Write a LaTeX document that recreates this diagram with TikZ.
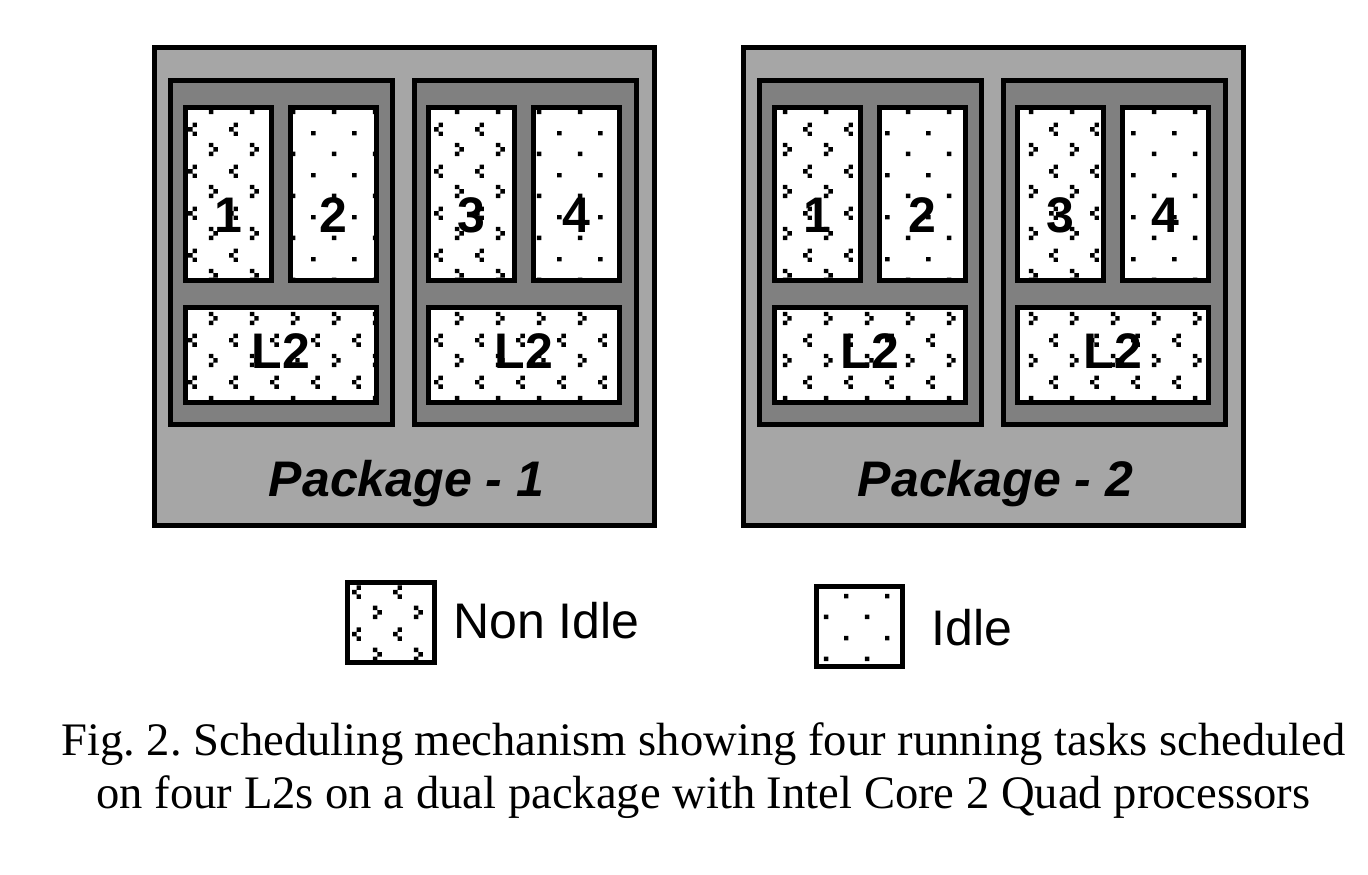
\documentclass[tikz,border=0pt]{standalone}
\usepackage{fontspec}
\setmainfont{Liberation Serif}
\setsansfont{Liberation Sans}
\usepackage{tikz}
\usetikzlibrary{patterns}
\usetikzlibrary{positioning}

\definecolor{pkggray}{RGB}{166,166,166}
\definecolor{diegray}{RGB}{128,128,128}

% busy core / cache: little > and < marks
\pgfdeclarepatternformonly{nonidle}{\pgfqpoint{0pt}{0pt}}{\pgfqpoint{20.5pt}{21pt}}{\pgfqpoint{20.5pt}{21pt}}{
  \pgfpathrectangle{\pgfqpoint{2pt}{6.5pt}}{\pgfqpoint{2.25pt}{2.25pt}}
  \pgfpathrectangle{\pgfqpoint{4.25pt}{4.25pt}}{\pgfqpoint{2.25pt}{2.25pt}}
  \pgfpathrectangle{\pgfqpoint{2pt}{2pt}}{\pgfqpoint{2.25pt}{2.25pt}}
  \pgfpathrectangle{\pgfqpoint{14.5pt}{16.75pt}}{\pgfqpoint{2.25pt}{2.25pt}}
  \pgfpathrectangle{\pgfqpoint{12.25pt}{14.5pt}}{\pgfqpoint{2.25pt}{2.25pt}}
  \pgfpathrectangle{\pgfqpoint{14.5pt}{12.25pt}}{\pgfqpoint{2.25pt}{2.25pt}}
  \pgfusepath{fill}
}
% idle core: sparse dots
\pgfdeclarepatternformonly{idle}{\pgfqpoint{0pt}{0pt}}{\pgfqpoint{20.5pt}{21pt}}{\pgfqpoint{20.5pt}{21pt}}{
  \pgfpathrectangle{\pgfqpoint{2pt}{2pt}}{\pgfqpoint{2.25pt}{2.25pt}}
  \pgfpathrectangle{\pgfqpoint{12.25pt}{12.5pt}}{\pgfqpoint{2.25pt}{2.25pt}}
  \pgfusepath{fill}
}

\tikzset{
    pkgbox/.style = {rectangle, draw=black, line width=2.5pt, fill=pkggray, inner sep=0pt, minimum width=250pt, minimum height=239pt},
    diebox/.style = {rectangle, draw=black, line width=2.5pt, fill=diegray, inner sep=0pt, minimum width=111pt, minimum height=172pt},
    corebusy/.style = {rectangle, draw=black, line width=2.5pt, preaction={fill=white}, pattern=nonidle, inner sep=0pt, minimum width=43pt, minimum height=86.5pt},
    coreidle/.style = {rectangle, draw=black, line width=2.5pt, preaction={fill=white}, pattern=idle, inner sep=0pt, minimum width=43pt, minimum height=86.5pt},
    cachebusy/.style = {corebusy, minimum width=95.5pt, minimum height=47.5pt},
    numlbl/.style = {font=\sffamily\bfseries\fontsize{25}{30}\selectfont, yshift=-10.5pt},
    cachelbl/.style = {font=\sffamily\bfseries\fontsize{25}{30}\selectfont, yshift=2pt},
    pkglbl/.style = {font=\sffamily\bfseries\itshape\fontsize{25}{30}\selectfont, anchor=base},
    legtext/.style = {font=\sffamily\fontsize{25}{30}\selectfont, anchor=base west, inner sep=0pt}
}

\begin{document}
\frenchspacing
\begin{tikzpicture}[x=0.5pt, y=-0.5pt]
  \useasboundingbox (0,0) rectangle (1368,874);
  \foreach \p/\dx in {1/0, 2/589} {
    \begin{scope}[shift={(\dx,0)}]
      \node[pkgbox] (pkg\p) at (404.5,286.5) {};
      \node[diebox] (pkg\p die1) at (281.5,252.5) {};
      \node[diebox] (pkg\p die2) at (525.5,252.5) {};
      \node[corebusy, label={[numlbl]center:1}] (pkg\p core1) at (228,194) {};
      \node[coreidle, label={[numlbl]center:2}] (pkg\p core2) at (333,194) {};
      \node[corebusy, label={[numlbl]center:3}] (pkg\p core3) at (471,194) {};
      \node[coreidle, label={[numlbl]center:4}] (pkg\p core4) at (576.5,194) {};
      \node[cachebusy, label={[cachelbl]center:L2}] (pkg\p l2a) at (281,355) {};
      \node[cachebusy, label={[cachelbl]center:L2}] (pkg\p l2b) at (524,355) {};
      \node[pkglbl] (pkg\p name) at (406.5,496) {Package - \p};
    \end{scope}
  }
  % legend
  \node[corebusy, minimum width=43.5pt, minimum height=40pt] (legbusy) at (391,622.5) {};
  \node[legtext] (legbusytext) at (453,638) {Non Idle};
  \node[coreidle, minimum width=43pt, minimum height=40pt] (legidle) at (859.5,626.5) {};
  \node[legtext] (legidletext) at (931,645) {Idle};
  % caption (base = last line)
  \node[anchor=base, align=center, font=\fontsize{23.3}{26.5}\selectfont] (caption) at (703.5,808)
    {Fig. 2. Scheduling mechanism showing four running tasks scheduled\\on four L2s on a dual package with Intel Core 2 Quad processors};
\end{tikzpicture}
\end{document}
